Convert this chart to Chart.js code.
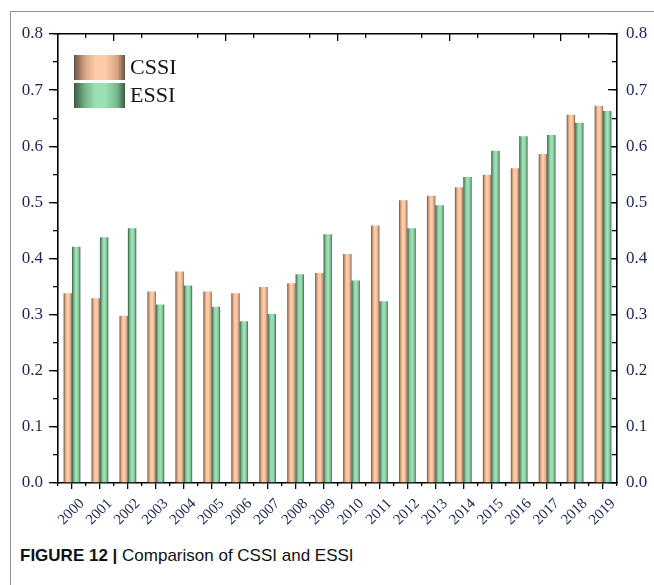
<!DOCTYPE html>
<html>
<head>
<meta charset="utf-8">
<script src="https://cdn.jsdelivr.net/npm/chart.js@4/dist/chart.umd.min.js"></script>
<style>
  html, body { margin: 0; padding: 0; background: #fff; }
  #page { position: relative; width: 654px; height: 585px; overflow: hidden; background: #fff; }
  #frame { position: absolute; left: 10px; top: 11px; width: 700px; height: 620px;
           border-left: 1px solid #8f8f8f; border-top: 1px solid #8f8f8f; }
  #plot { position: absolute; left: 0; top: 0; }
  #caption { position: absolute; left: 20px; top: 546px; font-family: "Liberation Sans", Arial, sans-serif;
             font-size: 17px; color: #111; white-space: nowrap; }
  #caption b { font-weight: bold; }
</style>
</head>
<body>
<div id="page">
  <div id="frame"></div>
  <canvas id="plot" width="654" height="530"></canvas>
  <div id="caption"><b>FIGURE 12 |</b> Comparison of CSSI and ESSI</div>
</div>
<script>
// Years on the category axis
const years = ['2000','2001','2002','2003','2004','2005','2006','2007','2008','2009',
               '2010','2011','2012','2013','2014','2015','2016','2017','2018','2019'];

// Index values per year
const cssi = [0.338, 0.329, 0.298, 0.341, 0.377, 0.341, 0.338, 0.349, 0.356, 0.374,
              0.408, 0.459, 0.504, 0.512, 0.527, 0.549, 0.561, 0.586, 0.656, 0.672];
const essi = [0.421, 0.438, 0.454, 0.318, 0.352, 0.314, 0.288, 0.301, 0.372, 0.443,
              0.361, 0.324, 0.454, 0.495, 0.545, 0.592, 0.618, 0.620, 0.642, 0.663];

// Value axis range and labels
const yMin = 0, yMax = 0.8, yStep = 0.1;
const yTickLabels = ['0.0','0.1','0.2','0.3','0.4','0.5','0.6','0.7','0.8'];

// Shaded fills: dark rim, bright middle, darker right flank
const palettes = [
  { dark: '#6a5142', mid: '#d8a684', light: '#fecaa7' },
  { dark: '#3b5845', mid: '#78b48c', light: '#9ae0b2' }
];
const CAT_PCT = 0.6;
const INK = '#1b2752';

function addStops(g, p) {
  g.addColorStop(0.00, p.dark);
  g.addColorStop(0.22, p.mid);
  g.addColorStop(0.42, p.light);
  g.addColorStop(0.62, p.light);
  g.addColorStop(0.85, p.mid);
  g.addColorStop(1.00, p.dark);
}

function barFill(context) {
  const p = palettes[context.datasetIndex];
  const chart = context.chart;
  const xs = chart.scales && chart.scales.x;
  if (context.type !== 'data' || !xs || !xs.width) return p.light;
  const w = (xs.width / years.length) * CAT_PCT / 2;
  const c = xs.getPixelForValue(context.dataIndex);
  const left = c - w + context.datasetIndex * w;
  const g = chart.ctx.createLinearGradient(left, 0, left + w, 0);
  addStops(g, p);
  return g;
}

// Legend drawn inside the plot's upper-left corner
const insetLegend = {
  id: 'insetLegend',
  afterDatasetsDraw(chart) {
    const { ctx, chartArea } = chart;
    const x0 = chartArea.left + 16, y0 = chartArea.top + 21;
    const bw = 51, bh = 25, gap = 28;
    ctx.save();
    chart.data.datasets.forEach((ds, i) => {
      const y = y0 + i * gap;
      const g = ctx.createLinearGradient(x0, 0, x0 + bw, 0);
      addStops(g, palettes[i]);
      ctx.fillStyle = g;
      ctx.fillRect(x0, y, bw, bh);
      ctx.fillStyle = '#141414';
      ctx.font = '22px "Liberation Serif", "Times New Roman", serif';
      ctx.textAlign = 'left';
      ctx.textBaseline = 'middle';
      ctx.fillText(ds.label, x0 + 56, y + bh / 2 + 1);
    });
    ctx.restore();
  }
};

const serif = '"Liberation Serif", "Times New Roman", serif';
const tickGrid = (len, extra) => Object.assign({
  drawOnChartArea: false, drawTicks: true, tickLength: len,
  color: '#000', tickColor: '#000', lineWidth: 1.3, tickWidth: 1.3
}, extra || {});
const axisBorder = { display: true, color: '#000', width: 1.6 };
const noBorder = { display: false };
const yLabel = (v) => {
  const i = Math.round((v - yMin) / yStep);
  return Math.abs(v - (yMin + i * yStep)) < 1e-6 ? yTickLabels[i] : '';
};

new Chart(document.getElementById('plot'), {
  type: 'bar',
  data: {
    labels: years,
    datasets: [
      { label: 'CSSI', data: cssi, backgroundColor: barFill, borderWidth: 0,
        categoryPercentage: CAT_PCT, barPercentage: 1 },
      { label: 'ESSI', data: essi, backgroundColor: barFill, borderWidth: 0,
        categoryPercentage: CAT_PCT, barPercentage: 1 }
    ]
  },
  options: {
    responsive: false,
    animation: false,
    layout: { padding: 0 },
    plugins: { legend: { display: false }, tooltip: { enabled: false } },
    scales: {
      x: {
        type: 'category', position: 'bottom', weight: 1, offset: true,
        grid: tickGrid(6, { offset: false }),
        border: axisBorder,
        ticks: { autoSkip: false, minRotation: 45, maxRotation: 45, padding: 6, labelOffset: 10,
                 color: INK, font: { family: serif, size: 15 } },
        afterFit: (s) => { s.height = 47; }
      },
      xMinor: {
        type: 'category', position: 'bottom', weight: 0, offset: true,
        grid: tickGrid(3, { offset: true }),
        border: noBorder,
        ticks: { display: false },
        afterFit: (s) => { s.height = 0; }
      },
      xTop: {
        type: 'linear', position: 'top', weight: 1, offset: false, min: 0, max: 20,
        grid: tickGrid(-7),
        border: axisBorder,
        ticks: { display: false, stepSize: 4 },
        afterFit: (s) => { s.height = 34; }
      },
      xTopMinor: {
        type: 'linear', position: 'top', weight: 0, offset: false, min: 0, max: 20,
        grid: tickGrid(-4),
        border: noBorder,
        ticks: { display: false, stepSize: 2 },
        afterFit: (s) => { s.height = 0; }
      },
      y: {
        type: 'linear', position: 'left', weight: 1, min: yMin, max: yMax,
        grid: tickGrid(9),
        border: axisBorder,
        ticks: { stepSize: yStep, padding: 6, color: INK, font: { family: serif, size: 17 }, callback: yLabel },
        afterFit: (s) => { s.width = 58; }
      },
      yMinor: {
        type: 'linear', position: 'left', weight: 0, min: yMin, max: yMax,
        grid: tickGrid(5),
        border: noBorder,
        ticks: { display: false, stepSize: yStep / 2 },
        afterFit: (s) => { s.width = 0; }
      },
      yRight: {
        type: 'linear', position: 'right', weight: 1, min: yMin, max: yMax,
        grid: tickGrid(-9),
        border: axisBorder,
        ticks: { stepSize: yStep, padding: 18, color: INK, font: { family: serif, size: 17 }, callback: yLabel },
        afterFit: (s) => { s.width = 37; }
      },
      yRightMinor: {
        type: 'linear', position: 'right', weight: 0, min: yMin, max: yMax,
        grid: tickGrid(-5),
        border: noBorder,
        ticks: { display: false, stepSize: yStep / 2 },
        afterFit: (s) => { s.width = 0; }
      }
    }
  },
  plugins: [insetLegend]
});
</script>
</body>
</html>
